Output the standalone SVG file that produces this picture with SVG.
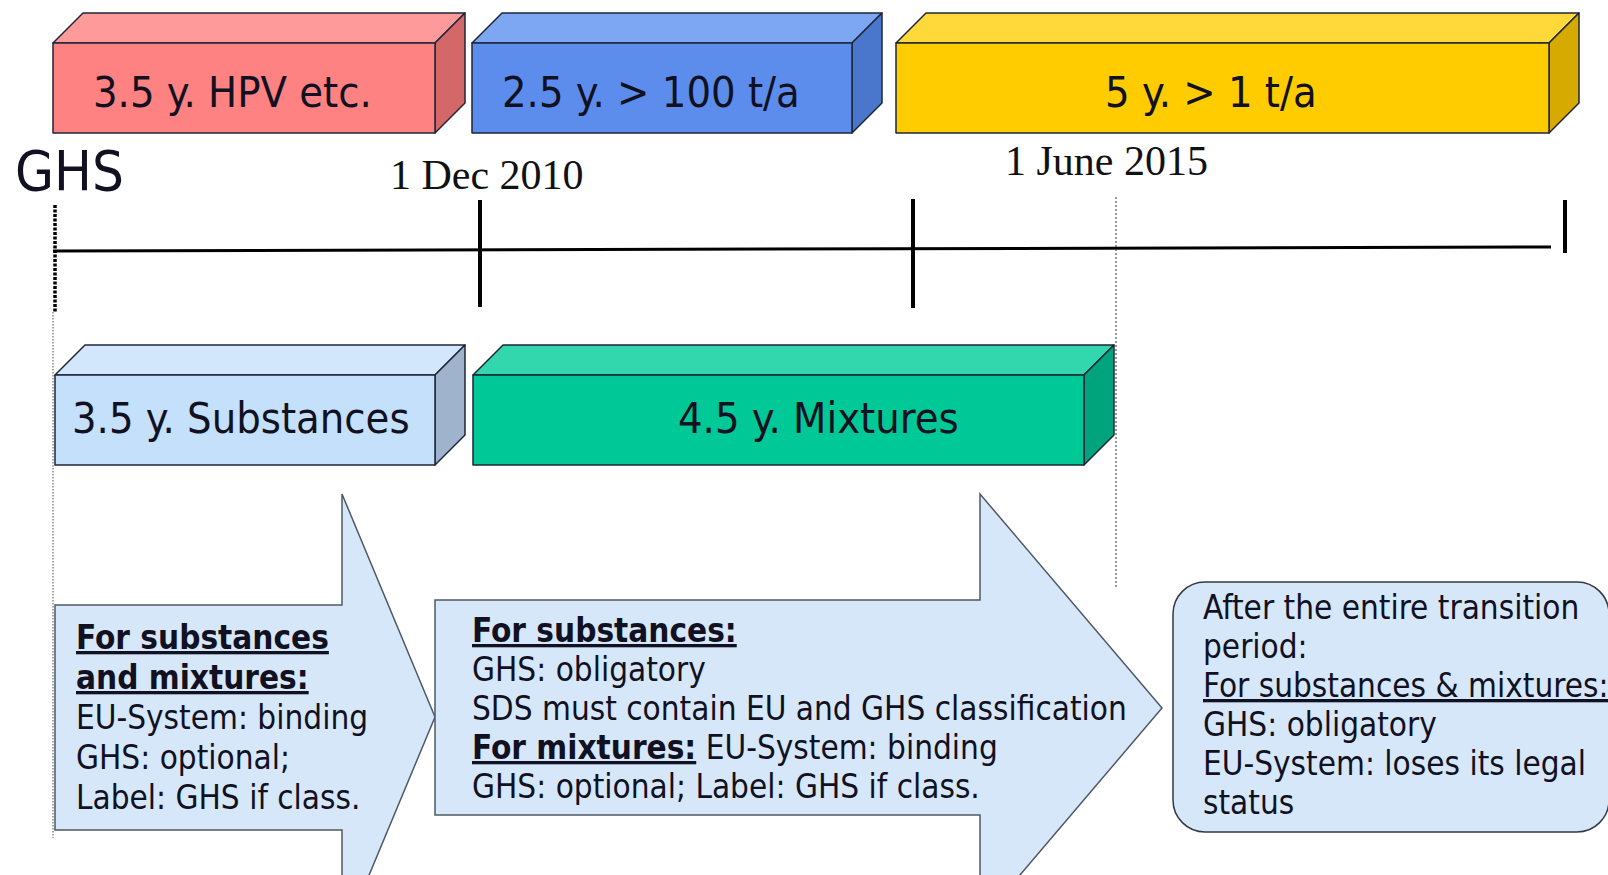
<svg xmlns="http://www.w3.org/2000/svg" width="1608" height="875" viewBox="0 0 1608 875">
<style>
  .edge { stroke: #1e2638; stroke-width: 1.5; stroke-linejoin: round; }
  .lbl { font-family: "DejaVu Sans Condensed", "DejaVu Sans", sans-serif; font-stretch: condensed; fill: #111122; }
  .big { font-size: 43px; }
  .body { font-size: 33px; }
  .b { font-weight: bold; }
  .u { text-decoration: underline; }
  .date { font-family: "Liberation Serif", serif; font-size: 42px; fill: #111; }
  .arrow { fill: #d5e7f9; stroke: #4f5966; stroke-width: 1.5; stroke-linejoin: miter; }
</style>
<rect width="1608" height="875" fill="#ffffff"/>

<g id="timeline">
  <line x1="53" y1="251" x2="1551" y2="247" stroke="#000" stroke-width="3"/>
  <line x1="480" y1="200" x2="480" y2="307" stroke="#000" stroke-width="4"/>
  <line x1="913" y1="199" x2="913" y2="308" stroke="#000" stroke-width="4"/>
  <line x1="1565" y1="200" x2="1565" y2="253" stroke="#000" stroke-width="4"/>
  <line x1="55" y1="205" x2="55" y2="312" stroke="#000" stroke-width="3.5" stroke-dasharray="3 1.5"/>
  <line x1="53" y1="312" x2="53" y2="838" stroke="#8a8a8a" stroke-width="1.5" stroke-dasharray="1.5 1.5"/>
  <line x1="1116" y1="197" x2="1116" y2="587" stroke="#333" stroke-width="1" stroke-dasharray="2 2"/>
  <text class="lbl" x="15" y="190" font-size="56">GHS</text>
  <text class="date" x="390" y="189">1 Dec 2010</text>
  <text class="date" x="1005" y="175">1 June 2015</text>
</g>

<g id="box-hpv">
  <polygon class="edge" fill="#ff9a9a" points="53,43 83,13 465,13 435,43"/>
  <polygon class="edge" fill="#d46868" points="435,43 465,13 465,103 435,133"/>
  <rect class="edge" fill="#ff8282" x="53" y="43" width="382" height="90"/>
  <text class="lbl big" x="93" y="107">3.5 y. HPV etc.</text>
</g>

<g id="box-100t">
  <polygon class="edge" fill="#7ea7f3" points="472,43 502,13 882,13 852,43"/>
  <polygon class="edge" fill="#4a76cb" points="852,43 882,13 882,103 852,133"/>
  <rect class="edge" fill="#5c8ded" x="472" y="43" width="380" height="90"/>
  <text class="lbl big" x="502" y="107">2.5 y. &gt; 100 t/a</text>
</g>

<g id="box-1t">
  <polygon class="edge" fill="#ffd83a" points="896,43 926,13 1579,13 1549,43"/>
  <polygon class="edge" fill="#d6aa00" points="1549,43 1579,13 1579,103 1549,133"/>
  <rect class="edge" fill="#ffcc00" x="896" y="43" width="653" height="90"/>
  <text class="lbl big" x="1105" y="107">5 y. &gt; 1 t/a</text>
</g>

<g id="box-substances">
  <polygon class="edge" fill="#d2e7fc" points="55,375 85,345 465,345 435,375"/>
  <polygon class="edge" fill="#9fb3cc" points="435,375 465,345 465,435 435,465"/>
  <rect class="edge" fill="#c4e0fa" x="55" y="375" width="380" height="90"/>
  <text class="lbl big" x="72" y="433">3.5 y. Substances</text>
</g>

<g id="box-mixtures">
  <polygon class="edge" fill="#33d7ae" points="473,375 503,345 1114,345 1084,375"/>
  <polygon class="edge" fill="#00a47c" points="1084,375 1114,345 1114,435 1084,465"/>
  <rect class="edge" fill="#00c896" x="473" y="375" width="611" height="90"/>
  <text class="lbl big" x="678" y="433">4.5 y. Mixtures</text>
</g>

<g id="arrow-phase1">
  <polygon class="arrow" points="55,605 342,605 342,494 435,717 342,940 342,830 55,830"/>
  <text class="lbl body">
    <tspan class="b u" x="76" y="649">For substances</tspan>
    <tspan class="b u" x="76" y="689">and mixtures:</tspan>
    <tspan x="76" y="729">EU-System: binding</tspan>
    <tspan x="76" y="769">GHS: optional;</tspan>
    <tspan x="76" y="809">Label: GHS if class.</tspan>
  </text>
</g>

<g id="arrow-phase2">
  <polygon class="arrow" points="435,600 980,600 980,494 1162,708 980,922 980,815 435,815"/>
  <text class="lbl body">
    <tspan class="b u" x="472" y="642">For substances:</tspan>
    <tspan x="472" y="681">GHS: obligatory</tspan>
    <tspan x="472" y="720">SDS must contain EU and GHS classification</tspan>
    <tspan x="472" y="759"><tspan class="b u">For mixtures:</tspan> EU-System: binding</tspan>
    <tspan x="472" y="798">GHS: optional; Label: GHS if class.</tspan>
  </text>
</g>

<g id="box-final">
  <rect x="1173" y="582" width="436" height="250" rx="32" ry="32" fill="#d5e7f9" stroke="#333a44" stroke-width="1.5"/>
  <text class="lbl body">
    <tspan x="1203" y="619">After the entire transition</tspan>
    <tspan x="1203" y="658">period:</tspan>
    <tspan class="u" x="1203" y="697">For substances &amp; mixtures:</tspan>
    <tspan x="1203" y="736">GHS: obligatory</tspan>
    <tspan x="1203" y="775">EU-System: loses its legal</tspan>
    <tspan x="1203" y="814">status</tspan>
  </text>
</g>
</svg>
